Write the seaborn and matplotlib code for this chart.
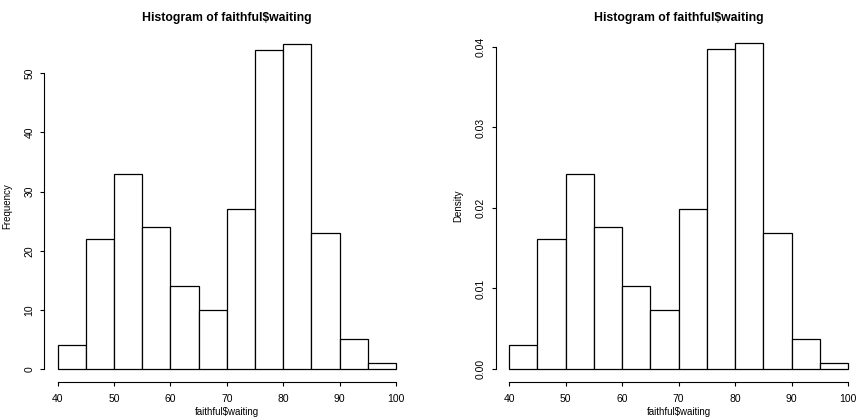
import numpy as np
import pandas as pd
import matplotlib
matplotlib.use("Agg")
import matplotlib.pyplot as plt
import seaborn as sns

# =====================================================
# DATA (faithful$waiting, binned as in R hist())
# =====================================================

bin_edges = [40, 45, 50, 55, 60, 65, 70, 75, 80, 85, 90, 95, 100]
counts = [4, 22, 33, 24, 14, 10, 27, 54, 55, 23, 5, 1]

x_ticks = [40, 50, 60, 70, 80, 90, 100]
freq_ticks = [0, 10, 20, 30, 40, 50]
dens_ticks = [0.00, 0.01, 0.02, 0.03, 0.04]
dens_labels = ["0.00", "0.01", "0.02", "0.03", "0.04"]

title = "Histogram of faithful$waiting"
xlabel = "faithful$waiting"

centers = [(a + b) / 2 for a, b in zip(bin_edges[:-1], bin_edges[1:])]
df = pd.DataFrame({"waiting": centers, "n": counts})

# =====================================================
# STYLE
# =====================================================

sns.set_style("ticks")
plt.rcParams["font.family"] = ["Liberation Sans", "DejaVu Sans"]
plt.rcParams["text.color"] = "black"
plt.rcParams["axes.labelcolor"] = "black"
plt.rcParams["axes.edgecolor"] = "black"
plt.rcParams["xtick.color"] = "black"
plt.rcParams["ytick.color"] = "black"
plt.rcParams["axes.linewidth"] = 0.8
plt.rcParams["xtick.major.width"] = 0.8
plt.rcParams["ytick.major.width"] = 0.8
plt.rcParams["xtick.major.size"] = 3
plt.rcParams["ytick.major.size"] = 3
plt.rcParams["xtick.labelsize"] = 7.5
plt.rcParams["ytick.labelsize"] = 7.5

W, H = 856, 418
fig = plt.figure(figsize=(W / 100, H / 100), dpi=100)

# R-style plot regions (pixels: left, top, right, bottom)
regions = [(44.2, 30.7, 409.5, 382.0), (495.7, 30.4, 861.5, 382.0)]

ymax_count = max(counts)
ymax_dens = ymax_count / (sum(counts) * 5)


def make_axes(box):
    l, t, r, b = box
    return fig.add_axes([l / W, 1 - b / H, (r - l) / W, (b - t) / H])


def style_axes(ax, ymax, yticks, ylabels, ylabel):
    pad_x = 0.04 * (bin_edges[-1] - bin_edges[0])
    ax.set_xlim(bin_edges[0] - pad_x, bin_edges[-1] + pad_x)
    ax.set_ylim(-0.04 * ymax, ymax * 1.04)
    sns.despine(ax=ax)
    ax.spines["bottom"].set_bounds(x_ticks[0], x_ticks[-1])
    ax.spines["left"].set_bounds(yticks[0], yticks[-1])
    ax.set_xticks(x_ticks)
    ax.set_yticks(yticks)
    ax.set_yticklabels(ylabels, rotation=90, va="center")
    ax.tick_params(axis="x", pad=6)
    ax.tick_params(axis="y", pad=4)
    ax.set_title(title, fontsize=8.8, fontweight="bold", pad=7)
    ax.set_xlabel(xlabel, fontsize=7, labelpad=2)
    ax.set_ylabel(ylabel, fontsize=7, labelpad=9)
    ax.set_facecolor("white")


# Frequency histogram
ax1 = make_axes(regions[0])
sns.histplot(
    data=df, x="waiting", weights="n", bins=bin_edges, stat="count",
    color="white", edgecolor="black", linewidth=0.9, alpha=1, ax=ax1
)
style_axes(ax1, ymax_count, freq_ticks, [str(v) for v in freq_ticks], "Frequency")

# Density histogram
ax2 = make_axes(regions[1])
sns.histplot(
    data=df, x="waiting", weights="n", bins=bin_edges, stat="density",
    color="white", edgecolor="black", linewidth=0.9, alpha=1, ax=ax2
)
style_axes(ax2, ymax_dens, dens_ticks, dens_labels, "Density")

fig.savefig("out.png", dpi=100, facecolor="white")
